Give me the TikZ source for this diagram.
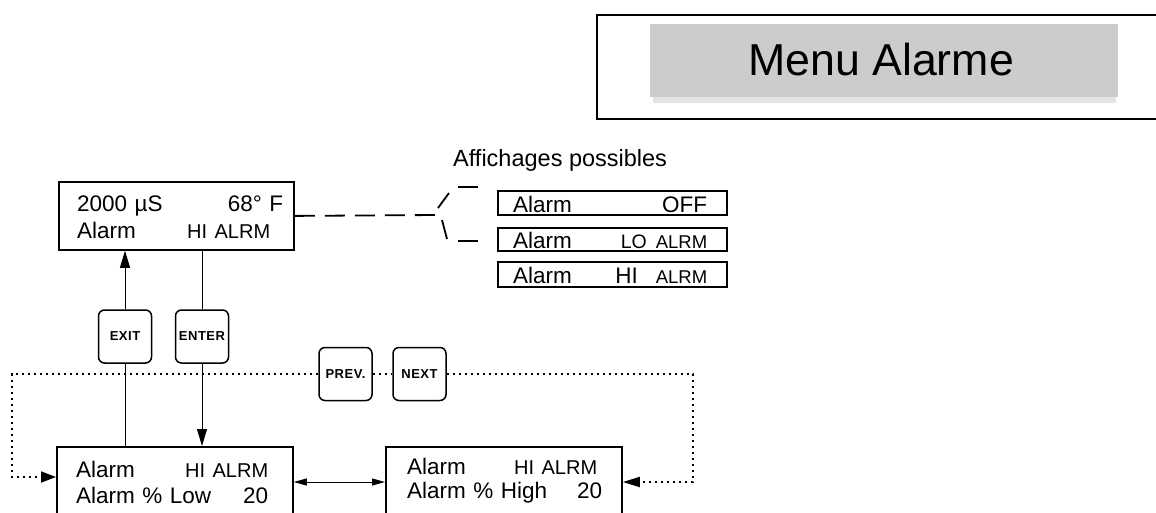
\documentclass[tikz,border=0pt]{standalone}
\usepackage{fontspec}
\setmainfont{Liberation Sans}
\newfontfamily\keyfont[LetterSpace=4]{Liberation Sans}
\usetikzlibrary{arrows.meta}
\definecolor{titlegray}{HTML}{CCCCCC}
\definecolor{shadowgray}{HTML}{E3E3E3}
\newcommand{\fs}[1]{\fontsize{#1}{#1}\selectfont}
\begin{document}
\begin{tikzpicture}[x=1pt,y=-1pt,
  lcd/.style={draw, line width=1.8pt, inner sep=0pt, anchor=north west},
  opt/.style={draw, line width=1.5pt, inner sep=0pt, anchor=north west, minimum width=229pt},
  txt/.style={anchor=base west, inner sep=0pt, font=\fs{22.5}},
  keybox/.style={draw, line width=1.5pt, rounded corners=6pt, minimum width=53pt, minimum height=53pt, inner sep=0pt, font=\keyfont\bfseries\fs{13}},
  conn/.style={line width=1pt},
  bigtip/.style={-{Triangle[length=17pt,width=10pt]}},
  dotline/.style={line width=1.8pt, dash pattern=on 1.8pt off 4.2pt}
]
\useasboundingbox (0,0) rectangle (1156,512);
\clip (0,0) rectangle (1156,512);

% title
\node[draw, line width=2pt, inner sep=0pt, anchor=north west, minimum width=620pt, minimum height=104pt] (frame) at (596,14) {};
\fill[shadowgray] (653,97) rectangle (1116,103);
\node[fill=titlegray, inner sep=0pt, anchor=north west, minimum width=468pt, minimum height=73pt] (title) at (650,24) {};
\node[anchor=base west, inner sep=0pt, font=\fs{44.7}] (titletext) at (748,75) {Menu Alarme};

% top display
\node[lcd, minimum width=235pt, minimum height=68pt] (top) at (58,181) {};
\node[txt, text width=206pt] (top1) at (77,211) {2000 µS\hfill 68° F};
\node[txt, text width=193pt] (top2) at (77,238) {Alarm\hfill{\fs{20}HI ALRM}};

% possible displays
\node[anchor=base west, inner sep=0pt, font=\fs{23.5}] (poss) at (453,166) {Affichages possibles};
\node[opt, minimum height=24pt] (opt1) at (497,190) {};
\node[opt, minimum height=23pt] (opt2) at (497,227) {};
\node[opt, minimum height=25pt] (opt3) at (497,261) {};
\node[txt, text width=194pt] (opt1t) at (513,212) {Alarm\hfill OFF};
\node[txt, text width=194pt] (opt2t) at (513,248) {Alarm\hfill{\fs{19.5}LO}\hspace{9pt}{\fs{18.5}ALRM}};
\node[txt, text width=194pt] (opt3t) at (513,283) {Alarm\hfill{\fs{22.5}HI}\hspace{18pt}{\fs{18.5}ALRM}};

% dashed link to options
\coordinate (fork) at (437,215);
\draw[line width=1.8pt, dash pattern=on 20pt off 10pt] (top.east) -- (fork);
\draw[line width=1.8pt] (438,208) -- (449,193);
\draw[line width=1.8pt] (442,220) -- (447,239);
\draw[line width=1.8pt] (458,187) -- (478,187);
\draw[line width=1.8pt] (458,241) -- (478,241);

% keys
\node[keybox] (exit) at (125,336.5) {EXIT};
\node[keybox] (enter) at (202,336.5) {ENTER};
\node[keybox] (prev) at (345.5,374) {PREV.};
\node[keybox] (next) at (419.5,374) {NEXT};

% bottom displays
\node[lcd, minimum width=236pt, minimum height=90pt] (bl) at (56,446) {};
\node[lcd, minimum width=236pt, minimum height=90pt] (br) at (385,446) {};
\node[txt, text width=192pt] (bl1) at (76,477) {Alarm\hfill{\fs{20}HI ALRM}};
\node[txt, text width=192pt] (bl2) at (76,503) {Alarm \% Low\hfill 20};
\node[txt, text width=190pt] (br1) at (407,474) {Alarm\hfill{\fs{20}HI ALRM}};
\node[txt, text width=195pt] (br2) at (407,498) {Alarm \% High\hfill 20};

% vertical connectors
\draw[conn, bigtip] (exit.north) -- (exit.north |- top.south);
\draw[conn] (bl.north -| exit.south) -- (exit.south);
\draw[conn] (top.south -| enter.north) -- (enter.north);
\draw[conn, bigtip] (enter.south) -- (enter.south |- bl.north);

% dotted loops
\coordinate (dl) at (12,477);
\coordinate (dr) at (693,482);
\draw[dotline, -{Triangle[length=15pt,width=11pt]}] (prev.west) -- (prev.west -| dl) -- (dl) -- (dl -| bl.west);
\draw[dotline] (prev.east) -- (next.west);
\draw[dotline, -{Triangle[length=17pt,width=10pt]}] (next.east) -- (next.east -| dr) -- (dr) -- (dr -| br.east);

% between bottom displays
\draw[conn, {Triangle[length=13pt,width=7pt]}-{Triangle[length=13pt,width=7pt]}] (bl.east |- 0,482) -- (br.west |- 0,482);
\end{tikzpicture}
\end{document}
